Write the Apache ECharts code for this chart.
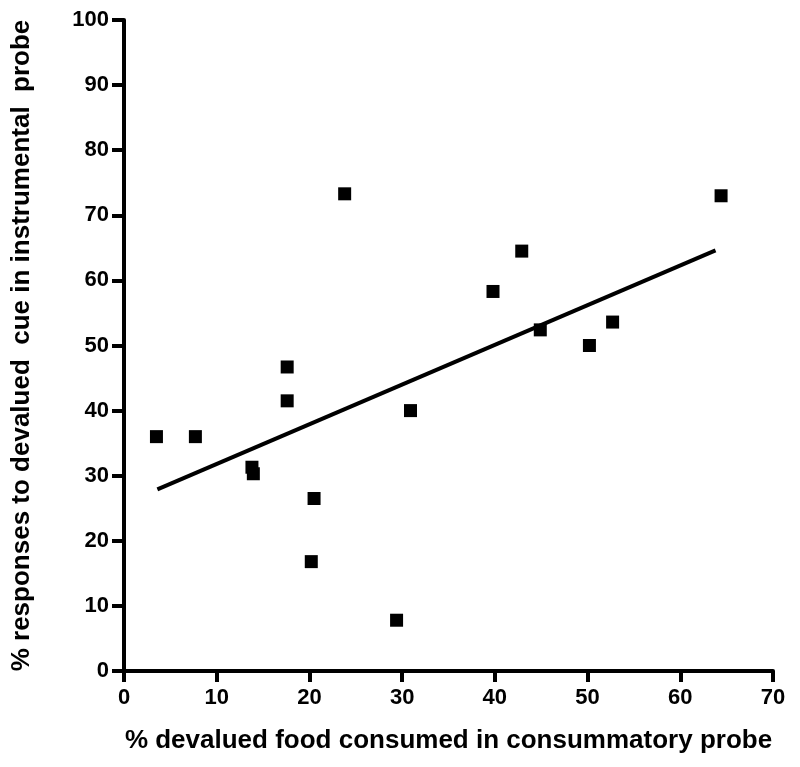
<!DOCTYPE html>
<html>
<head>
<meta charset="utf-8">
<script src="https://cdn.jsdelivr.net/npm/echarts@6/dist/echarts.min.js"></script>
<style>html,body{margin:0;padding:0;background:#fff;}#c{width:800px;height:767px;}</style>
</head>
<body>
<div id="c"></div>
<script>
var xValues = [3.5, 7.7, 13.8, 13.95, 17.6, 17.6, 20.2, 20.5, 23.8, 29.4, 30.9, 39.8, 42.9, 44.9, 50.2, 52.7, 64.4];
var yValues = [36.0, 36.0, 31.3, 30.3, 46.7, 41.5, 16.8, 26.5, 73.3, 7.8, 40.0, 58.3, 64.5, 52.4, 50.0, 53.6, 73.0];
var fitX = [3.6, 63.8];
var fitY = [27.9, 64.6];
var xTitle = '% devalued food consumed in consummatory probe';
var yTitle = '% responses to devalued  cue in instrumental  probe';

var pts = xValues.map(function(x, i){ return [x, yValues[i]]; });
var fit = fitX.map(function(x, i){ return [x, fitY[i]]; });
var font = 'Liberation Sans, Arial, sans-serif';
var chart = echarts.init(document.getElementById('c'), null, {renderer: 'canvas'});
chart.setOption({
  animation: false,
  backgroundColor: '#fff',
  grid: {left: 124, right: 27, top: 20, bottom: 96, containLabel: false},
  xAxis: {
    type: 'value', min: 0, max: 70, interval: 10,
    name: xTitle, nameLocation: 'middle', nameGap: 57,
    nameTextStyle: {fontFamily: font, fontWeight: 'bold', fontSize: 26, color: '#000'},
    axisLine: {show: true, lineStyle: {color: '#000', width: 4}},
    axisTick: {show: true, length: 11, lineStyle: {color: '#000', width: 4}},
    axisLabel: {fontFamily: font, fontWeight: 'bold', fontSize: 22, color: '#000', margin: 16},
    splitLine: {show: false}
  },
  yAxis: {
    type: 'value', min: 0, max: 100, interval: 10,
    name: yTitle, nameLocation: 'middle', nameGap: 89,
    nameTextStyle: {fontFamily: font, fontWeight: 'bold', fontSize: 26, color: '#000'},
    axisLine: {show: true, lineStyle: {color: '#000', width: 4}},
    axisTick: {show: true, length: 12, lineStyle: {color: '#000', width: 4}},
    axisLabel: {fontFamily: font, fontWeight: 'bold', fontSize: 22, color: '#000', margin: 15},
    splitLine: {show: false}
  },
  series: [
    {type: 'line', data: fit, symbol: 'none', lineStyle: {color: '#000', width: 4}, z: 2},
    {type: 'scatter', data: pts, symbol: 'rect', symbolSize: 13, itemStyle: {color: '#000', opacity: 1}, z: 3}
  ]
});
</script>
</body>
</html>
